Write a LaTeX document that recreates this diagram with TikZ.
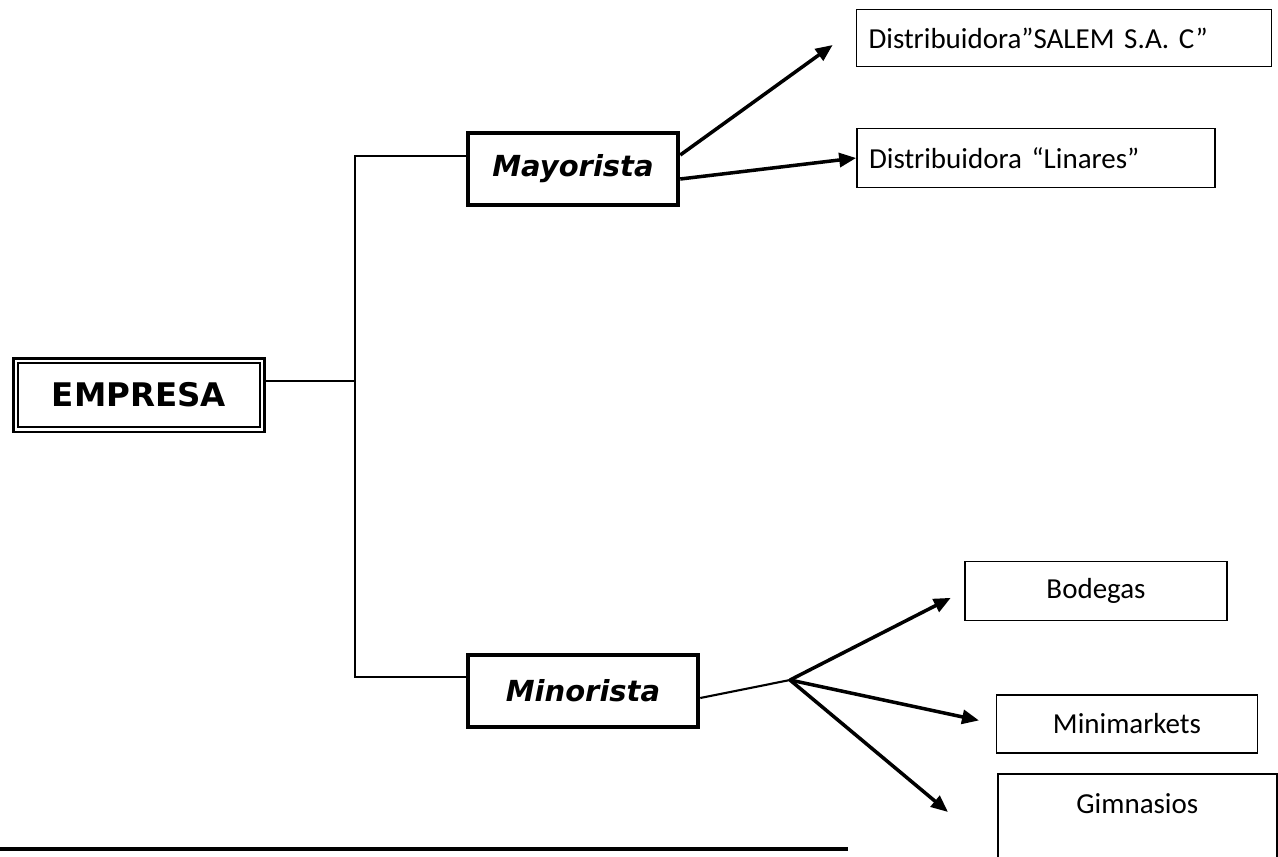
\documentclass[tikz,border=0pt]{standalone}
\usepackage{fontspec}
\setmainfont{Carlito}
\newfontfamily\empresafont{DejaVu Sans}
\newfontfamily\canalfont{DejaVu Sans}
\usepackage{tikz}
\usetikzlibrary{arrows.meta,calc}
\frenchspacing

\begin{document}
\begin{tikzpicture}[
      x=0.02cm, y=-0.02cm,
      >={Triangle[length=0.34cm, width=0.28cm]}
    ]

    \tikzstyle{box} = [rectangle, draw=black, line width=1pt, inner sep=0pt, font=\fontsize{16.5}{19}\selectfont, text centered]
    \tikzstyle{distbox} = [box, align=left, inner xsep=0.24cm]
    \tikzstyle{canal} = [rectangle, draw=black, line width=2.6pt, inner sep=0pt, font=\canalfont\bfseries\itshape\fontsize{16.5}{20}\selectfont]
    \tikzstyle{tree} = [line width=1.2pt]
    \tikzstyle{arrow} = [line width=2pt, ->]

    \useasboundingbox (0,0) rectangle (1278,856);

    % raiz
    \node [rectangle, draw=black, line width=1.7pt, minimum width=5.04cm, minimum height=1.48cm, font=\empresafont\bfseries\fontsize{18.5}{22}\selectfont] (empresa) at (139,395) {EMPRESA};
    \draw [line width=1.2pt] ($(empresa.south west)+(3.6pt,3.6pt)$) rectangle ($(empresa.north east)+(-3.6pt,-3.6pt)$);

    % canales
    \node [canal, minimum width=4.2cm, minimum height=1.44cm] (mayorista) at (573,169) {Mayorista};
    \node [canal, minimum width=4.6cm, minimum height=1.44cm] (minorista) at (583,691) {Minorista};

    % destinos
    \node [distbox, text width=7.82cm, minimum height=1.14cm] (salem) at (1064,38) {Distribuidora”SALEM S.A. C”};
    \node [distbox, text width=6.68cm, minimum height=1.18cm] (linares) at (1036,158) {Distribuidora “Linares”};
    \node [box, minimum width=5.24cm, minimum height=1.18cm] (bodegas) at (1096,591) {Bodegas};
    \node [box, minimum width=5.22cm, minimum height=1.16cm] (minimarkets) at (1127,724) {Minimarkets};
    \node [box, anchor=north west, minimum width=5.58cm, text height=0.8cm, text depth=2cm] (gimnasios) at (997,773) {Gimnasios};

    \coordinate (trunk) at (355,381);
    \coordinate (split) at (790,680);
    \coordinate (salemtip) at ($(salem.west)+(-23,7)$);
    \coordinate (gimnasiostip) at ($(gimnasios.north west)+(-49,39)$);

    % arbol
    \draw [tree] ($(empresa.east)+(0,-14)$) -- (trunk);
    \draw [tree] ($(mayorista.west)+(0,-13)$) -| (trunk) |- ($(minorista.west)+(0,-14)$);

    \draw [arrow] ($(mayorista.east)+(0,-14)$) -- (salemtip);
    \draw [arrow] ($(mayorista.east)+(0,10)$) -- (linares.west);

    \draw [tree] ($(minorista.east)+(0,7)$) -- (split);
    \draw [arrow, shorten >=0.3cm] (split) -- (bodegas.west);
    \draw [arrow, shorten >=0.34cm] (split) -- (minimarkets.west);
    \draw [arrow] (split) -- (gimnasiostip);

    \draw [line width=2pt] (0,849) -- (848,849);

\end{tikzpicture}
\end{document}
